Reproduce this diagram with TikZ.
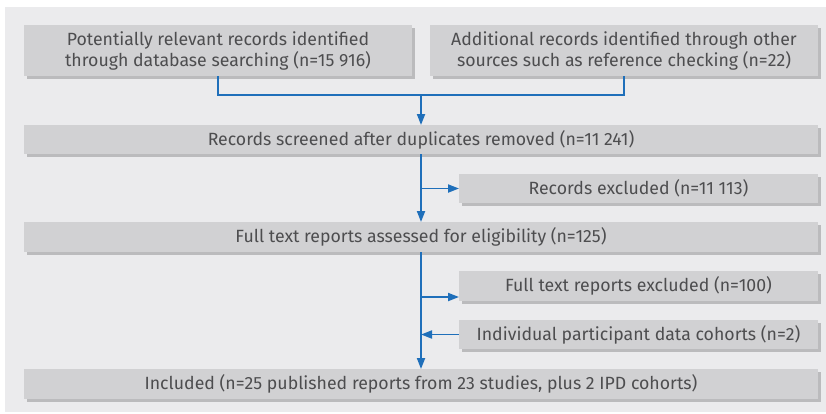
\documentclass[tikz,border=0pt]{standalone}
\usepackage{fontspec}
\setmainfont{Fira Sans}
\usetikzlibrary{arrows.meta,shadows,calc}
\definecolor{bgc}{HTML}{EBEBED}
\definecolor{boxc}{HTML}{D1D1D3}
\definecolor{shc}{HTML}{BBBBBD}
\definecolor{txtc}{HTML}{4D4D4F}
\definecolor{bluec}{HTML}{1F6FBA}
\tikzset{
  box/.style={fill=boxc, draw=none, inner sep=0pt, outer sep=0pt, align=center,
    text=txtc, font=\fontsize{17.7}{21}\selectfont,
    general shadow={fill=shc, shadow xshift=3pt, shadow yshift=-3pt}},
  conn/.style={draw=bluec, line width=1.9pt},
  arr/.style={conn, -{Triangle[length=11pt,width=8pt]}}
}
\begin{document}
\begin{tikzpicture}[x=1pt,y=-1pt]
\useasboundingbox (0,0) rectangle (826,413);
\fill[bgc] (5,7) rectangle (826,412);
\node[box, minimum width=388pt, minimum height=51pt] (b1) at (218,50.5)
  {Potentially relevant records identified\\through database searching (n=15 916)};
\node[box, minimum width=388pt, minimum height=51pt] (b2) at (624,50.5)
  {Additional records identified through other\\sources such as reference checking (n=22)};
\node[box, minimum width=794pt, minimum height=29pt] (b3) at (421,139.5)
  {Records screened after duplicates removed (n=11 241)};
\node[box, minimum width=359pt, minimum height=29pt] (b4) at (638.5,188.5)
  {Records excluded (n=11 113)};
\node[box, minimum width=794pt, minimum height=30pt] (b5) at (421,237)
  {Full text reports assessed for eligibility (n=125)};
\node[box, minimum width=359pt, minimum height=30pt] (b6) at (638.5,286)
  {Full text reports excluded (n=100)};
\node[box, minimum width=359pt, minimum height=29pt] (b7) at (638.5,334.5)
  {Individual participant data cohorts (n=2)};
\node[box, minimum width=794pt, minimum height=30pt] (b8) at (421,384)
  {Included (n=25 published reports from 23 studies, plus 2 IPD cohorts)};
\coordinate (j0) at (421,95);
\coordinate (j1) at (421,188.5);
\coordinate (j2) at (421,297);
\draw[conn] (b1.south) |- (j0) -| (b2.south);
\draw[arr] (j0) -- (b3.north);
\draw[arr] (b3.south) -- (b5.north);
\draw[arr] (j1) -- (b4.west);
\draw[arr] (b5.south) -- (b8.north);
\draw[arr] (j2) -- (j2 -| b6.west);
\draw[arr] (b7.west) -- (b7.west -| b5.south);
\end{tikzpicture}
\end{document}
